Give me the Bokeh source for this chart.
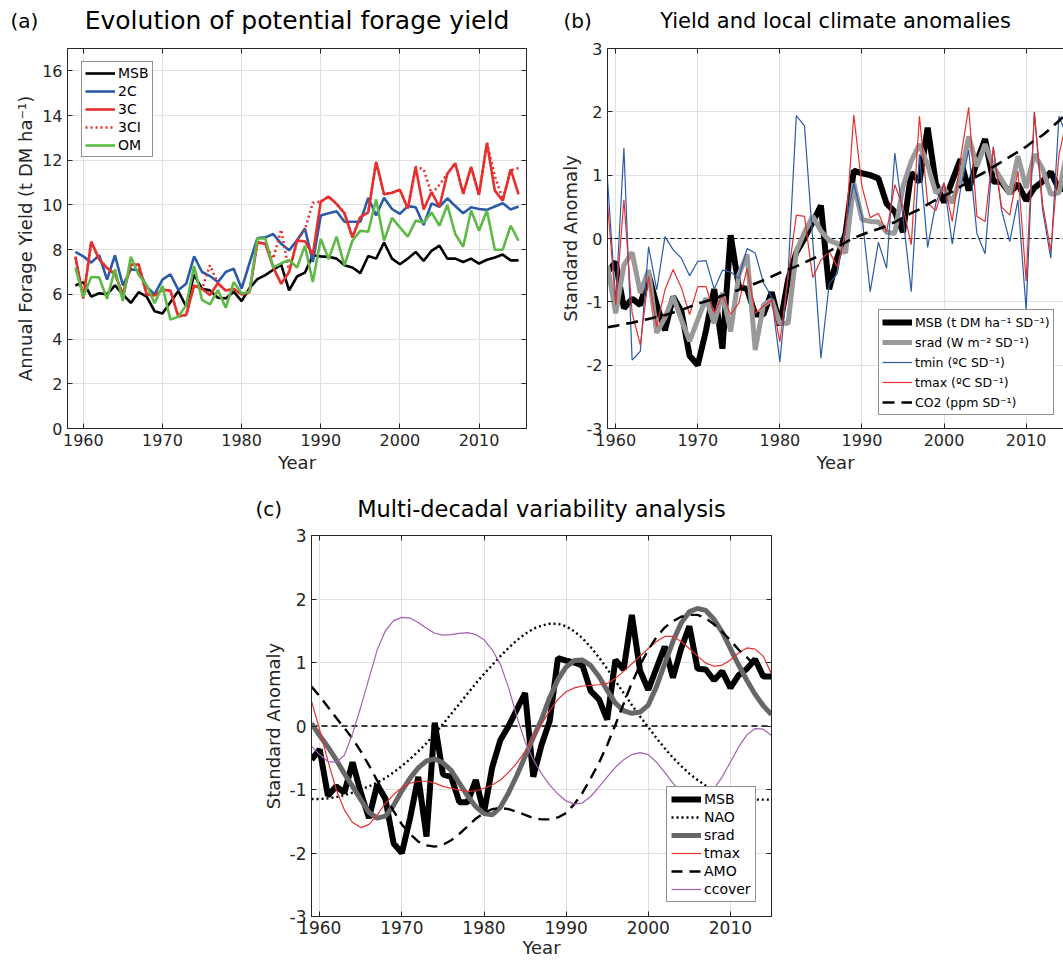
from bokeh.plotting import figure
from bokeh.layouts import column, row
from bokeh.models import (ColumnDataSource, Legend, LegendItem, FixedTicker,
                          LinearAxis, Span, Range1d)
from bokeh.core.properties import value
from bokeh.embed import file_html
from bokeh.resources import INLINE

# ---------------- data ----------------
years = list(range(1959, 2016))
year_ticks = [1960, 1970, 1980, 1990, 2000, 2010]
yield_ticks = [0, 2, 4, 6, 8, 10, 12, 14, 16]
anom_ticks = [-3, -2, -1, 0, 1, 2, 3]
anom_tick_labels = ["-3", "-2", "-1", "0", "1", "2", "3"]

panel_letters = ["(a)", "(b)", "(c)"]
panel_titles = ["Evolution of potential forage yield",
                "Yield and local climate anomalies",
                "Multi-decadal variability analysis"]

# (a) annual forage yield, t DM ha-1
yield_msb = [6.40, 6.55, 5.90, 6.05, 6.00, 6.40, 6.00, 5.62, 6.10, 5.90,
             5.25, 5.15, 5.65, 6.15, 5.45, 6.88, 6.25, 6.18, 5.85, 5.82,
             6.12, 5.70, 6.28, 6.68, 6.86, 7.10, 7.33, 6.18, 6.80, 6.97,
             7.75, 7.70, 7.68, 7.60, 7.30, 7.20, 6.95, 7.72, 7.60, 8.32,
             7.60, 7.35, 7.60, 7.90, 7.50, 7.95, 8.18, 7.60, 7.60, 7.45,
             7.60, 7.38, 7.55, 7.65, 7.78, 7.52, 7.52]
yield_2c = [7.90, 7.70, 7.42, 7.75, 6.66, 7.75, 6.40, 7.12, 7.08, 6.35,
            6.00, 6.66, 6.90, 6.20, 6.48, 7.70, 7.00, 6.82, 6.55, 7.00,
            7.15, 6.26, 7.40, 8.52, 8.55, 8.70, 8.27, 7.97, 8.42, 8.95,
            7.45, 9.53, 9.63, 9.72, 9.25, 9.25, 9.25, 10.32, 9.53, 10.32,
            9.82, 9.60, 9.95, 9.90, 9.10, 10.07, 9.92, 10.30, 9.95, 9.63,
            9.90, 9.82, 9.78, 9.93, 10.08, 9.80, 9.93]
yield_3c = [7.68, 5.82, 8.36, 7.57, 7.18, 6.90, 6.00, 7.33, 7.33, 6.00,
            5.95, 6.20, 6.17, 5.02, 5.08, 6.40, 6.24, 5.97, 6.50, 6.17,
            6.24, 6.00, 6.10, 8.33, 8.26, 7.21, 6.47, 7.00, 8.40, 8.38,
            7.78, 10.15, 10.37, 10.05, 9.63, 8.55, 9.46, 9.67, 11.93, 10.48,
            10.55, 10.68, 9.84, 11.70, 9.80, 10.57, 9.92, 11.40, 11.87, 10.50,
            11.70, 10.45, 12.78, 10.64, 10.19, 11.59, 10.47]
yield_3ci = [7.68, 5.82, 8.36, 7.57, 7.18, 6.90, 6.00, 7.33, 7.33, 6.00,
             5.95, 6.20, 6.17, 5.02, 5.08, 6.40, 6.24, 7.30, 6.50, 6.17,
             6.24, 6.00, 6.10, 8.33, 8.26, 7.60, 8.90, 7.00, 8.40, 8.90,
             10.10, 10.15, 10.37, 10.05, 9.63, 8.55, 9.46, 9.67, 11.93, 10.48,
             10.55, 10.68, 9.84, 11.70, 11.60, 10.50, 10.90, 11.40, 11.87, 10.50,
             11.70, 10.45, 12.78, 11.30, 10.25, 11.55, 11.65]
yield_om = [7.20, 5.90, 6.78, 6.76, 5.80, 7.12, 5.70, 7.68, 6.87, 6.42,
            5.60, 6.37, 4.87, 5.00, 5.52, 7.27, 5.75, 5.55, 6.19, 5.40,
            6.55, 6.04, 6.12, 8.50, 8.50, 7.21, 7.39, 7.54, 7.20, 8.18,
            6.55, 8.48, 7.58, 8.58, 7.30, 8.40, 8.85, 8.80, 10.25, 8.40,
            9.42, 9.00, 8.58, 9.30, 9.22, 9.67, 9.07, 10.00, 8.70, 8.13,
            9.75, 8.85, 9.75, 8.00, 8.00, 9.07, 8.40]

# (b) standardized anomalies
msb_anom = [-0.53, -0.37, -1.10, -0.95, -1.05, -0.57, -1.05, -1.45, -0.92, -1.15,
            -1.85, -2.00, -1.45, -0.80, -1.74, 0.05, -0.76, -0.80, -1.20, -1.20,
            -0.85, -1.37, -0.65, -0.22, 0.00, 0.26, 0.52, -0.80, -0.30, 0.08,
            1.07, 1.03, 1.00, 0.95, 0.55, 0.42, 0.10, 1.04, 0.89, 1.75,
            0.87, 0.57, 0.91, 1.25, 0.76, 1.22, 1.57, 0.90, 0.89, 0.72,
            0.86, 0.60, 0.80, 0.90, 1.05, 0.78, 0.78]
srad_anom = [-0.43, -1.18, -0.42, -0.22, -0.86, -0.50, -1.49, -1.25, -0.92, -1.28,
             -1.62, -1.28, -0.94, -1.34, -0.86, -1.47, -0.57, -0.25, -1.76, -1.05,
             -0.97, -1.34, -1.34, -0.20, 0.10, 0.35, 0.12, -0.03, -0.08, -0.23,
             0.87, 0.30, 0.27, 0.26, 0.10, 0.08, 0.82, 1.22, 1.49, 1.16,
             0.72, 0.80, 0.56, 0.98, 1.61, 1.14, 1.49, 1.14, 0.93, 0.70,
             1.30, 0.80, 1.33, 1.10, 0.70, 0.72, 1.40]
tmin_anom = [0.93, -1.00, 1.43, -1.92, -1.78, -0.13, -0.81, 0.03, -0.18, -0.31,
             -0.59, -0.36, -0.35, -0.80, -0.50, -0.53, -0.63, -0.16, -0.23, -0.70,
             -0.92, -1.95, -0.55, 1.94, 1.78, -0.02, -1.89, -0.72, -0.55, 0.19,
             0.87, 0.35, -0.84, -0.06, -0.47, 1.35, 0.35, -0.84, 1.33, -0.14,
             0.56, 0.88, -0.09, 0.77, 1.40, 0.08, -0.24, 1.45, 0.45, -0.05,
             0.61, -1.13, 2.00, 0.45, -0.31, 1.93, 1.60]
tmax_anom = [0.56, -1.05, 0.61, -1.18, -1.68, -0.60, -1.39, -0.81, -0.49, -0.78,
             -1.20, -0.76, -0.76, -1.18, -0.89, -1.20, -1.02, -0.47, -1.18, -1.07,
             -0.97, -1.63, -0.60, 0.37, 0.35, -0.62, -0.34, -0.20, -0.45, 0.10,
             1.95, 0.82, 0.33, 0.40, 0.10, 0.85, 0.50, -0.10, 1.93, 0.56,
             0.44, 0.88, 0.27, 1.25, 2.07, 0.35, 0.27, 1.43, 0.50, 0.37,
             1.07, -0.67, 1.99, 0.55, -0.20, 1.33, 1.90]
co2_anom = [-1.40, -1.38, -1.35, -1.33, -1.30, -1.27, -1.24, -1.21, -1.17, -1.13,
            -1.08, -1.03, -0.99, -0.95, -0.90, -0.86, -0.81, -0.77, -0.71, -0.66,
            -0.60, -0.54, -0.49, -0.44, -0.38, -0.32, -0.26, -0.20, -0.13, -0.06,
            0.01, 0.06, 0.11, 0.15, 0.20, 0.26, 0.33, 0.40, 0.46, 0.54,
            0.61, 0.67, 0.74, 0.82, 0.90, 0.98, 1.05, 1.13, 1.21, 1.29,
            1.37, 1.45, 1.55, 1.63, 1.74, 1.86, 1.98]

# (c) low-frequency components
nao_lf = [-1.15, -1.15, -1.14, -1.12, -1.09, -1.05, -1.00, -0.95, -0.89, -0.82,
          -0.73, -0.63, -0.52, -0.40, -0.27, -0.12, 0.03, 0.19, 0.35, 0.51,
          0.67, 0.82, 0.96, 1.10, 1.23, 1.35, 1.45, 1.53, 1.58, 1.61,
          1.61, 1.57, 1.49, 1.38, 1.24, 1.08, 0.90, 0.71, 0.52, 0.33,
          0.15, -0.02, -0.19, -0.35, -0.50, -0.63, -0.75, -0.85, -0.94, -1.01,
          -1.06, -1.10, -1.13, -1.15, -1.16, -1.16, -1.16]
srad_lf = [0.04, -0.15, -0.33, -0.53, -0.75, -0.95, -1.16, -1.36, -1.45, -1.42,
           -1.25, -1.02, -0.82, -0.66, -0.55, -0.52, -0.58, -0.70, -0.90, -1.10,
           -1.27, -1.38, -1.40, -1.28, -1.05, -0.78, -0.48, -0.18, 0.10, 0.45,
           0.73, 0.93, 1.03, 1.04, 0.95, 0.78, 0.56, 0.36, 0.24, 0.20,
           0.22, 0.33, 0.62, 0.98, 1.33, 1.62, 1.80, 1.85, 1.82, 1.68,
           1.48, 1.22, 0.96, 0.72, 0.50, 0.32, 0.18]
tmax_lf = [0.39, -0.06, -0.55, -1.00, -1.32, -1.52, -1.60, -1.55, -1.40, -1.22,
           -1.08, -0.97, -0.90, -0.87, -0.87, -0.90, -0.95, -0.98, -1.01, -1.03,
           -1.02, -0.98, -0.93, -0.85, -0.73, -0.58, -0.40, -0.18, 0.03, 0.24,
           0.42, 0.54, 0.60, 0.63, 0.64, 0.65, 0.67, 0.75, 0.86, 0.98,
           1.10, 1.22, 1.33, 1.41, 1.41, 1.33, 1.22, 1.10, 0.99, 0.94,
           0.96, 1.04, 1.15, 1.23, 1.21, 1.10, 0.82]
amo_lf = [0.62, 0.47, 0.30, 0.13, -0.03, -0.20, -0.40, -0.62, -0.86, -1.10,
          -1.34, -1.55, -1.70, -1.82, -1.88, -1.90, -1.87, -1.80, -1.70, -1.58,
          -1.46, -1.37, -1.31, -1.29, -1.31, -1.35, -1.40, -1.45, -1.47, -1.47,
          -1.44, -1.37, -1.23, -1.05, -0.82, -0.58, -0.30, 0.02, 0.35, 0.68,
          0.96, 1.20, 1.40, 1.55, 1.65, 1.72, 1.75, 1.75, 1.70, 1.60,
          1.48, 1.35, 1.20, 1.08, 0.95, 0.83, 0.72]
ccover_lf = [-0.32, -0.45, -0.56, -0.57, -0.46, -0.12, 0.30, 0.75, 1.20, 1.50,
             1.66, 1.71, 1.70, 1.63, 1.54, 1.46, 1.43, 1.44, 1.46, 1.47,
             1.44, 1.36, 1.20, 0.97, 0.60, 0.15, -0.25, -0.53, -0.75, -0.93,
             -1.07, -1.18, -1.23, -1.21, -1.11, -0.96, -0.80, -0.65, -0.53, -0.45,
             -0.42, -0.45, -0.57, -0.73, -0.90, -1.04, -1.13, -1.16, -1.12, -0.99,
             -0.80, -0.57, -0.33, -0.14, -0.04, -0.05, -0.15]

# ---------------- layout constants (pixels) ----------------
FONT = "DejaVu Sans"
AX = "#262626"
GRID = "#e0e0e0"
BLUE = "#2b5ba8"
RED = "#e5302d"
GREEN = "#5fb947"
PURPLE = "#a55fb4"

W_A, W_B, W_C = 555, 508, 801
HEAD1, HEAD2 = 40, 44
A_L, A_FW = 67, 459
B_L, B_FW = 52, 456
C_L, C_FW = 311, 460


def tick_only_axis(ticks):
    """Box-side axis: inward ticks, no labels."""
    return LinearAxis(ticker=FixedTicker(ticks=ticks), axis_line_color=AX,
                      major_tick_line_color=AX, major_tick_in=5,
                      major_tick_out=0, minor_tick_line_color=None,
                      major_label_text_color=None,
                      major_label_text_font_size="1px",
                      major_label_standoff=0)


def make_fig(width, height, borders, xr, yr, yticks, tick_fs, ylabel,
             outline=True, anom=False, right_ticks=True):
    l, r, t, b = borders
    p = figure(width=width, height=height, x_range=Range1d(*xr),
               y_range=Range1d(*yr), toolbar_location=None,
               output_backend="svg", min_border_left=l, min_border_right=r,
               min_border_top=t, min_border_bottom=b, title_location=None)
    xax = p.below[0]
    yax = p.left[0]
    xax.ticker = FixedTicker(ticks=year_ticks)
    yax.ticker = FixedTicker(ticks=yticks)
    if anom:
        yax.major_label_overrides = dict(zip(anom_ticks, anom_tick_labels))
    xax.axis_label = "Year"
    yax.axis_label = ylabel
    for ax in (xax, yax):
        ax.major_tick_in = 5
        ax.major_tick_out = 0
        ax.minor_tick_line_color = None
        ax.major_tick_line_color = AX
        ax.axis_line_color = AX
        ax.major_label_text_font = FONT
        ax.major_label_text_font_size = tick_fs
        ax.major_label_text_color = AX
        ax.major_label_standoff = 5
        ax.axis_label_text_font = FONT
        ax.axis_label_text_font_style = "normal"
        ax.axis_label_text_font_size = "18px"
        ax.axis_label_text_color = AX
        ax.axis_label_standoff = 3
    p.add_layout(tick_only_axis(year_ticks), "above")
    if right_ticks:
        p.add_layout(tick_only_axis(yticks), "right")
    p.xgrid.grid_line_color = GRID
    p.ygrid.grid_line_color = GRID
    p.background_fill_color = "white"
    p.border_fill_color = "white"
    if outline:
        p.outline_line_color = AX
        p.outline_line_alpha = 1.0
        p.outline_line_width = 1
    else:
        p.outline_line_color = None
    return p, xax, yax


def header(width, height):
    h = figure(width=width, height=height, x_range=Range1d(0, width),
               y_range=Range1d(0, height), toolbar_location=None,
               output_backend="svg", min_border=0, title_location=None,
               x_axis_type=None, y_axis_type=None)
    h.outline_line_color = None
    h.xgrid.visible = False
    h.ygrid.visible = False
    h.background_fill_color = "white"
    h.border_fill_color = "white"
    return h


def style_legend(lg, fs, glyph_h, spacing, padding):
    lg.glyph_width = 30
    lg.glyph_height = glyph_h
    lg.label_height = glyph_h
    lg.spacing = spacing
    lg.padding = padding
    lg.margin = 0
    lg.label_standoff = 3
    lg.label_text_font = FONT
    lg.label_text_font_size = fs
    lg.label_text_color = "black"
    lg.border_line_color = AX
    lg.border_line_width = 1
    lg.background_fill_color = "white"
    lg.background_fill_alpha = 1.0


# ---------------- header row 1: panel letters and titles ----------------
h1 = header(W_A + W_B, HEAD1)
h1_src = ColumnDataSource(dict(
    x=[10, W_A + B_L - 44],
    y=[HEAD1 - 20, HEAD1 - 20],
    t=panel_letters[:2]))
h1.text("x", "y", text="t", source=h1_src, text_font=value(FONT),
        text_font_size=value("20px"), text_align="left",
        text_baseline="middle", text_color="black")
h1.text(x=[A_L + A_FW / 2], y=[HEAD1 - 20], text=[panel_titles[0]],
        text_font=value(FONT), text_font_size=value("25px"),
        text_align="center", text_baseline="middle", text_color="black")
h1.text(x=[W_A + B_L + B_FW / 2], y=[HEAD1 - 20], text=[panel_titles[1]],
        text_font=value(FONT), text_font_size=value("21px"),
        text_align="center", text_baseline="middle", text_color="black")

# ---------------- panel (a) ----------------
src_a = ColumnDataSource(dict(year=years, msb=yield_msb, c2=yield_2c,
                              c3=yield_3c, c3i=yield_3ci, om=yield_om))
pa, xa, ya = make_fig(W_A, 440, (A_L, 29, 8, 52), (1958, 2016), (0, 17),
                      yield_ticks, "16px",
                      "Annual Forage Yield (t DM ha\u207b\u00b9)")
ra1 = pa.line("year", "msb", source=src_a, line_color="black", line_width=2.6)
ra2 = pa.line("year", "c2", source=src_a, line_color=BLUE, line_width=2.6)
ra3 = pa.line("year", "c3", source=src_a, line_color=RED, line_width=2.6)
ra4 = pa.line("year", "c3i", source=src_a, line_color=RED, line_width=2.6,
              line_dash="2 3")
ra5 = pa.line("year", "om", source=src_a, line_color=GREEN, line_width=2.6)
lga = Legend(items=[LegendItem(label="MSB", renderers=[ra1]),
                    LegendItem(label="2C", renderers=[ra2]),
                    LegendItem(label="3C", renderers=[ra3]),
                    LegendItem(label="3CI", renderers=[ra4]),
                    LegendItem(label="OM", renderers=[ra5])],
             location=(14, 271))
style_legend(lga, "14px", 16, 2, 3)
pa.add_layout(lga)

# ---------------- panel (b) ----------------
src_b = ColumnDataSource(dict(year=years, msb=msb_anom, srad=srad_anom,
                              tmin=tmin_anom, tmax=tmax_anom, co2=co2_anom))
pb, xb, yb = make_fig(W_B, 440, (B_L, 0, 8, 52), (1959, 2014.55), (-3, 3),
                      anom_ticks, "16px", "Standard Anomaly",
                      outline=False, anom=True, right_ticks=False)
pb.add_layout(Span(location=0, dimension="width", line_color="black",
                   line_width=1, line_dash="4 3", level="underlay"))
rb1 = pb.line("year", "msb", source=src_b, line_color="black", line_width=6)
rb2 = pb.line("year", "srad", source=src_b, line_color="#999999", line_width=5)
rb3 = pb.line("year", "tmin", source=src_b, line_color=BLUE, line_width=1.2)
rb4 = pb.line("year", "tmax", source=src_b, line_color=RED, line_width=1.2)
rb5 = pb.line("year", "co2", source=src_b, line_color="black", line_width=2.6,
              line_dash="12 7")
lgb = Legend(items=[LegendItem(label="MSB (t DM ha\u207b\u00b9 SD\u207b\u00b9)", renderers=[rb1]),
                    LegendItem(label="srad (W m\u207b\u00b2 SD\u207b\u00b9)", renderers=[rb2]),
                    LegendItem(label="tmin (\u00baC SD\u207b\u00b9)", renderers=[rb3]),
                    LegendItem(label="tmax (\u00baC SD\u207b\u00b9)", renderers=[rb4]),
                    LegendItem(label="CO2 (ppm SD\u207b\u00b9)", renderers=[rb5])],
             location=(271, 13))
style_legend(lgb, "12.5px", 18, 2, 3)
pb.add_layout(lgb)

# ---------------- header row 2 ----------------
h2 = header(W_C, HEAD2)
h2.text(x=[255], y=[HEAD2 - 28], text=[panel_letters[2]],
        text_font=value(FONT), text_font_size=value("20px"),
        text_align="left", text_baseline="middle", text_color="black")
h2.text(x=[C_L + C_FW / 2], y=[HEAD2 - 28], text=[panel_titles[2]],
        text_font=value(FONT), text_font_size=value("22.5px"),
        text_align="center", text_baseline="middle", text_color="black")

# ---------------- panel (c) ----------------
src_c = ColumnDataSource(dict(year=years, msb=msb_anom, nao=nao_lf,
                              srad=srad_lf, tmax=tmax_lf, amo=amo_lf,
                              ccover=ccover_lf))
pc, xc, yc = make_fig(W_C, 438, (C_L, 30, 11, 46), (1959, 2015), (-3, 3),
                      anom_ticks, "17px", "Standard Anomaly", anom=True)
xc.major_label_standoff = 4
xc.axis_label_standoff = 0
pc.add_layout(Span(location=0, dimension="width", line_color="black",
                   line_width=1.4, line_dash="6 4", level="underlay"))
rc1 = pc.line("year", "msb", source=src_c, line_color="black", line_width=6)
rc2 = pc.line("year", "nao", source=src_c, line_color="black", line_width=2.4,
              line_dash="2 3")
rc3 = pc.line("year", "srad", source=src_c, line_color="#676767", line_width=5)
rc4 = pc.line("year", "tmax", source=src_c, line_color=RED, line_width=1.2)
rc5 = pc.line("year", "amo", source=src_c, line_color="black", line_width=2.4,
              line_dash="11 7")
rc6 = pc.line("year", "ccover", source=src_c, line_color=PURPLE, line_width=1.2)
lgc = Legend(items=[LegendItem(label="MSB", renderers=[rc1]),
                    LegendItem(label="NAO", renderers=[rc2]),
                    LegendItem(label="srad", renderers=[rc3]),
                    LegendItem(label="tmax", renderers=[rc4]),
                    LegendItem(label="AMO", renderers=[rc5]),
                    LegendItem(label="ccover", renderers=[rc6])],
             location=(355, 14))
style_legend(lgc, "14px", 16, 2, 4)
pc.add_layout(lgc)

layout = column(row(h1), row(pa, pb), row(h2), row(pc))
open("out.html", "w").write(file_html(layout, INLINE))
